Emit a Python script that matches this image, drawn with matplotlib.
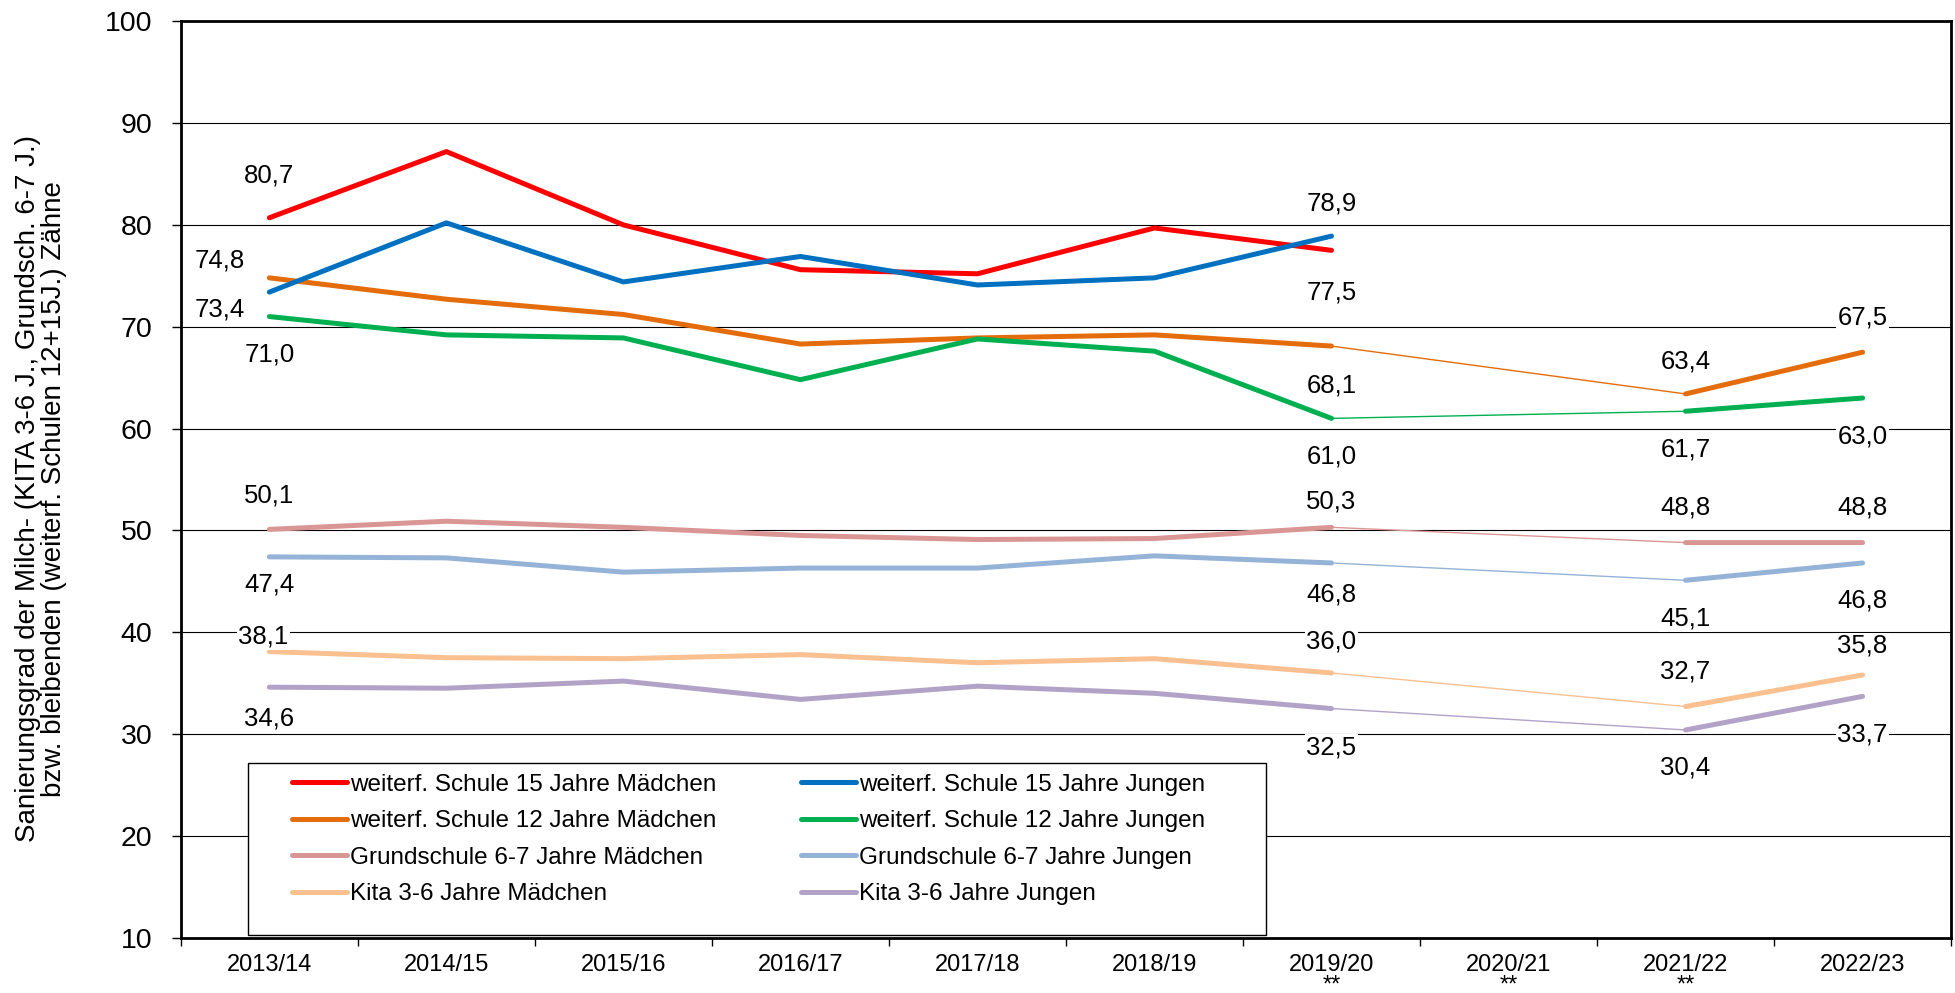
import numpy as np
import matplotlib
matplotlib.use("Agg")
import matplotlib.pyplot as plt
from matplotlib.patches import Rectangle
from matplotlib.ticker import FixedLocator, NullFormatter

years = ['2013/14', '2014/15', '2015/16', '2016/17', '2017/18', '2018/19',
         '2019/20', '2020/21', '2021/22', '2022/23']
year_labels = ['2013/14', '2014/15', '2015/16', '2016/17', '2017/18', '2018/19',
               '2019/20\n**', '2020/21\n**', '2021/22\n**', '2022/23']
nan = np.nan

names = ['weiterf. Schule 15 Jahre Mädchen', 'weiterf. Schule 12 Jahre Mädchen',
         'Grundschule 6-7 Jahre Mädchen', 'Kita 3-6 Jahre Mädchen',
         'weiterf. Schule 15 Jahre Jungen', 'weiterf. Schule 12 Jahre Jungen',
         'Grundschule 6-7 Jahre Jungen', 'Kita 3-6 Jahre Jungen']
colors = ['#FF0000', '#E46C0A', '#D99694', '#FAC090',
          '#0070C0', '#00B050', '#95B3D7', '#B3A2C7']

w15_m = [80.7, 87.2, 80.0, 75.6, 75.2, 79.7, 77.5, nan, nan, nan]
w12_m = [74.8, 72.7, 71.2, 68.3, 68.9, 69.2, 68.1, nan, 63.4, 67.5]
gs_m = [50.1, 50.9, 50.3, 49.5, 49.1, 49.2, 50.3, nan, 48.8, 48.8]
kita_m = [38.1, 37.5, 37.4, 37.8, 37.0, 37.4, 36.0, nan, 32.7, 35.8]
w15_j = [73.4, 80.2, 74.4, 76.9, 74.1, 74.8, 78.9, nan, nan, nan]
w12_j = [71.0, 69.2, 68.9, 64.8, 68.8, 67.6, 61.0, nan, 61.7, 63.0]
gs_j = [47.4, 47.3, 45.9, 46.3, 46.3, 47.5, 46.8, nan, 45.1, 46.8]
kita_j = [34.6, 34.5, 35.2, 33.4, 34.7, 34.0, 32.5, nan, 30.4, 33.7]
series = [w15_m, w12_m, gs_m, kita_m, w15_j, w12_j, gs_j, kita_j]

# label offsets (pixels) per series: {index: (dx, dy)}
offsets = [
    {0: (0, 42), 6: (0, -42)},
    {0: (-50, 17), 6: (0, -39), 8: (0, 32), 9: (0, 35)},
    {0: (0, 34), 6: (0, 26), 8: (0, 35), 9: (0, 35)},
    {0: (-6, 15), 6: (0, 31), 8: (0, 35), 9: (0, 29)},
    {0: (-50, -17), 6: (0, 33)},
    {0: (0, -38), 6: (0, -38), 8: (0, -38), 9: (0, -38)},
    {0: (0, -28), 6: (0, -32), 8: (0, -38), 9: (0, -38)},
    {0: (0, -31), 6: (0, -39), 8: (0, -38), 9: (0, -38)},
]

plt.rcParams['font.family'] = ['Liberation Sans', 'DejaVu Sans']

fig = plt.figure(figsize=(19.55, 9.93), dpi=100)
ax = fig.add_axes([0.0925, 0.0557, 0.9055, 0.9229])
x = np.arange(len(years))

for vals, col, name in zip(series, colors, names):
    v = np.array(vals, dtype=float)
    ax.plot(x, v, color=col, lw=3.6, solid_capstyle='round', label=name, zorder=3)
    ok = np.where(~np.isnan(v))[0]
    for a, b in zip(ok[:-1], ok[1:]):
        if b - a > 1:
            ax.plot([x[a], x[b]], [v[a], v[b]], color=col, lw=1.0, zorder=3)

for vals, offs in zip(series, offsets):
    for i, (dx, dy) in offs.items():
        ax.annotate(f"{vals[i]:.1f}".replace('.', ','), (x[i], vals[i]),
                    xytext=(dx, dy), textcoords='offset pixels',
                    ha='center', va='center', fontsize=18.5,
                    bbox=dict(fc='white', ec='none', pad=1), zorder=5)

ax.set_xlim(-0.5, 9.5)
ax.set_ylim(10, 100)
ax.set_yticks(np.arange(10, 101, 10))
ax.tick_params(axis='y', direction='out', length=6.5, width=1, pad=14, labelsize=20.5)
ax.set_xticks(x)
ax.set_xticklabels(year_labels, fontsize=17, linespacing=0.9)
ax.tick_params(axis='x', which='major', length=0, pad=12)
ax.xaxis.set_minor_locator(FixedLocator(np.arange(-0.5, 10, 1)))
ax.xaxis.set_minor_formatter(NullFormatter())
ax.tick_params(axis='x', which='minor', direction='out', length=6, width=1)
ax.yaxis.grid(True, color='black', lw=0.8, zorder=1)
ax.set_axisbelow(True)
for s in ax.spines.values():
    s.set_linewidth(2)

ax.set_ylabel("Sanierungsgrad der Milch- (KITA 3-6 J., Grundsch. 6-7 J.)\n"
              "bzw. bleibenden (weiterf. Schulen 12+15J.) Zähne",
              fontsize=20, linespacing=1.0)
ax.yaxis.label.set_verticalalignment('center')
ax.yaxis.set_label_coords(-0.079, 0.49)

# legend box (Excel style: fixed frame, entries inside)
ax.add_patch(Rectangle((0.0379, 0.0033), 0.5751, 0.1875, transform=ax.transAxes,
                       fc='white', ec='black', lw=1.0, zorder=6))
leg = ax.legend(ncol=2, loc='upper left', bbox_to_anchor=(0.0627, 0.179),
                borderaxespad=0, borderpad=0, fontsize=17.5, frameon=False,
                handlelength=2.26, handletextpad=0.12, columnspacing=3.5,
                labelspacing=0.6)
leg.set_zorder(7)

fig.savefig("out.png", dpi=100, facecolor='white')
